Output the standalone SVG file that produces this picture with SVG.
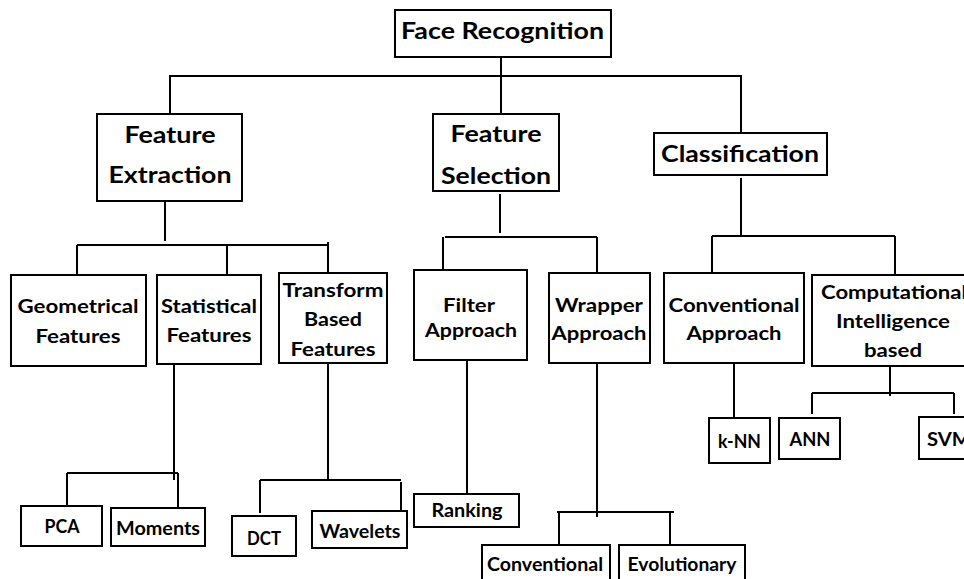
<svg xmlns="http://www.w3.org/2000/svg" width="964" height="579" viewBox="0 0 964 579">
  <style>
    .box { fill: #ffffff; stroke: #000000; stroke-width: 2; }
    .lbl { font-family: Lato, "Open Sans", "Liberation Sans", sans-serif; font-weight: bold; fill: #000000; text-anchor: middle; }
    .start { text-anchor: start; }
    .xl { font-size: 22px; }
    .md { font-size: 18.5px; }
    .sm { font-size: 18px; }
    .wire { fill: none; stroke: #000000; stroke-width: 2; }
  </style>
  <rect width="964" height="579" fill="#ffffff"/>

  <!-- connectors -->
  <g id="connectors" class="wire">
    <path d="M501 57 V114"/>
    <path d="M170 114 V76 H741 V133"/>
    <!-- feature extraction branch -->
    <path d="M165 201 V241"/>
    <path d="M77 245 H328"/>
    <path d="M77 245 V275"/>
    <path d="M227 245 V275"/>
    <path d="M328 242 V273"/>
    <!-- feature selection branch -->
    <path d="M500 194 V233"/>
    <path d="M445 237 H597"/>
    <path d="M443 237 V270"/>
    <path d="M597 237 V273"/>
    <!-- classification branch -->
    <path d="M741 178 V237"/>
    <path d="M712 236 H895"/>
    <path d="M712 236 V273"/>
    <path d="M895 236 V275"/>
    <!-- statistical features -->
    <path d="M174 364 V480"/>
    <path d="M67 473 H178"/>
    <path d="M67 473 V506"/>
    <path d="M178 473 V507"/>
    <!-- transform based features -->
    <path d="M328 363 V480"/>
    <path d="M260 480 H401"/>
    <path d="M260 480 V513"/>
    <path d="M401 482 V517"/>
    <!-- filter approach -->
    <path d="M467 360 V494"/>
    <!-- wrapper approach -->
    <path d="M597 363 V517"/>
    <path d="M557 512 H674"/>
    <path d="M559 512 V545"/>
    <path d="M670 512 V545"/>
    <!-- conventional approach -->
    <path d="M734 363 V418"/>
    <!-- computational intelligence -->
    <path d="M890 366 V396"/>
    <path d="M812 393 H954"/>
    <path d="M812 393 V414"/>
    <path d="M954 393 V414"/>
  </g>

  <g id="face-recognition">
    <rect class="box" x="395" y="10" width="216" height="47"/>
    <text class="lbl xl" x="502.5" y="39" textLength="203" lengthAdjust="spacingAndGlyphs">Face Recognition</text>
  </g>

  <g id="feature-extraction">
    <rect class="box" x="97" y="114" width="145" height="87"/>
    <text class="lbl xl" x="170" y="143" textLength="91" lengthAdjust="spacingAndGlyphs">Feature</text>
    <text class="lbl xl" x="170" y="183" textLength="123" lengthAdjust="spacingAndGlyphs">Extraction</text>
  </g>

  <g id="feature-selection">
    <rect class="box" x="433" y="114" width="126" height="77"/>
    <text class="lbl xl" x="496" y="142" textLength="91" lengthAdjust="spacingAndGlyphs">Feature</text>
    <text class="lbl xl" x="496" y="184" textLength="110" lengthAdjust="spacingAndGlyphs">Selection</text>
  </g>

  <g id="classification">
    <rect class="box" x="654" y="133" width="173" height="42"/>
    <text class="lbl xl" x="740" y="162" textLength="158" lengthAdjust="spacingAndGlyphs">Classification</text>
  </g>

  <g id="geometrical-features">
    <rect class="box" x="11" y="275" width="135" height="91"/>
    <text class="lbl md" x="78" y="313" textLength="121" lengthAdjust="spacingAndGlyphs">Geometrical</text>
    <text class="lbl md" x="78" y="343" textLength="85" lengthAdjust="spacingAndGlyphs">Features</text>
  </g>

  <g id="statistical-features">
    <rect class="box" x="157" y="275" width="104" height="89"/>
    <text class="lbl md" x="209" y="313" textLength="96" lengthAdjust="spacingAndGlyphs">Statistical</text>
    <text class="lbl md" x="209" y="342" textLength="85" lengthAdjust="spacingAndGlyphs">Features</text>
  </g>

  <g id="transform-features">
    <rect class="box" x="279" y="273" width="108" height="90"/>
    <text class="lbl md" x="333" y="297" textLength="101" lengthAdjust="spacingAndGlyphs">Transform</text>
    <text class="lbl md" x="333" y="326" textLength="58" lengthAdjust="spacingAndGlyphs">Based</text>
    <text class="lbl md" x="333" y="356" textLength="85" lengthAdjust="spacingAndGlyphs">Features</text>
  </g>

  <g id="filter-approach">
    <rect class="box" x="414" y="270" width="113" height="90"/>
    <text class="lbl md" x="469" y="312" textLength="52" lengthAdjust="spacingAndGlyphs">Filter</text>
    <text class="lbl md" x="471" y="337" textLength="92" lengthAdjust="spacingAndGlyphs">Approach</text>
  </g>

  <g id="wrapper-approach">
    <rect class="box" x="549" y="273" width="101" height="90"/>
    <text class="lbl md" x="599" y="312" textLength="88" lengthAdjust="spacingAndGlyphs">Wrapper</text>
    <text class="lbl md" x="599" y="340" textLength="95" lengthAdjust="spacingAndGlyphs">Approach</text>
  </g>

  <g id="conventional-approach">
    <rect class="box" x="664" y="273" width="140" height="90"/>
    <text class="lbl md" x="734" y="312" textLength="131" lengthAdjust="spacingAndGlyphs">Conventional</text>
    <text class="lbl md" x="734" y="340" textLength="95" lengthAdjust="spacingAndGlyphs">Approach</text>
  </g>

  <g id="computational-intelligence">
    <rect class="box" x="812" y="275" width="170" height="91"/>
    <text class="lbl md start" x="821" y="299" textLength="146" lengthAdjust="spacingAndGlyphs">Computational</text>
    <text class="lbl md" x="893" y="328" textLength="114" lengthAdjust="spacingAndGlyphs">Intelligence</text>
    <text class="lbl md" x="893" y="357" textLength="58" lengthAdjust="spacingAndGlyphs">based</text>
  </g>

  <g id="pca">
    <rect class="box" x="21" y="506" width="81" height="40"/>
    <text class="lbl sm" x="62" y="533" textLength="35" lengthAdjust="spacingAndGlyphs">PCA</text>
  </g>

  <g id="moments">
    <rect class="box" x="111" y="508" width="94" height="38"/>
    <text class="lbl sm" x="158" y="535" textLength="84" lengthAdjust="spacingAndGlyphs">Moments</text>
  </g>

  <g id="dct">
    <rect class="box" x="232" y="516" width="64" height="40"/>
    <text class="lbl sm" x="264" y="545" textLength="34" lengthAdjust="spacingAndGlyphs">DCT</text>
  </g>

  <g id="wavelets">
    <rect class="box" x="312" y="511" width="95" height="37"/>
    <text class="lbl sm" x="360" y="538" textLength="81" lengthAdjust="spacingAndGlyphs">Wavelets</text>
  </g>

  <g id="ranking">
    <rect class="box" x="414" y="494" width="105" height="33"/>
    <text class="lbl sm" x="467" y="517" textLength="71" lengthAdjust="spacingAndGlyphs">Ranking</text>
  </g>

  <g id="conventional">
    <rect class="box" x="482" y="545" width="128" height="50"/>
    <text class="lbl sm" x="545" y="571" textLength="116" lengthAdjust="spacingAndGlyphs">Conventional</text>
  </g>

  <g id="evolutionary">
    <rect class="box" x="619" y="545" width="126" height="50"/>
    <text class="lbl sm" x="682" y="571" textLength="109" lengthAdjust="spacingAndGlyphs">Evolutionary</text>
  </g>

  <g id="knn">
    <rect class="box" x="709" y="418" width="61" height="45"/>
    <text class="lbl sm" x="739.5" y="448" textLength="43" lengthAdjust="spacingAndGlyphs">k-NN</text>
  </g>

  <g id="ann">
    <rect class="box" x="779" y="418" width="61" height="41"/>
    <text class="lbl sm" x="810" y="446" textLength="41" lengthAdjust="spacingAndGlyphs">ANN</text>
  </g>

  <g id="svm">
    <rect class="box" x="919" y="417" width="70" height="42"/>
    <text class="lbl sm start" x="927" y="446" textLength="44" lengthAdjust="spacingAndGlyphs">SVM</text>
  </g>
</svg>
